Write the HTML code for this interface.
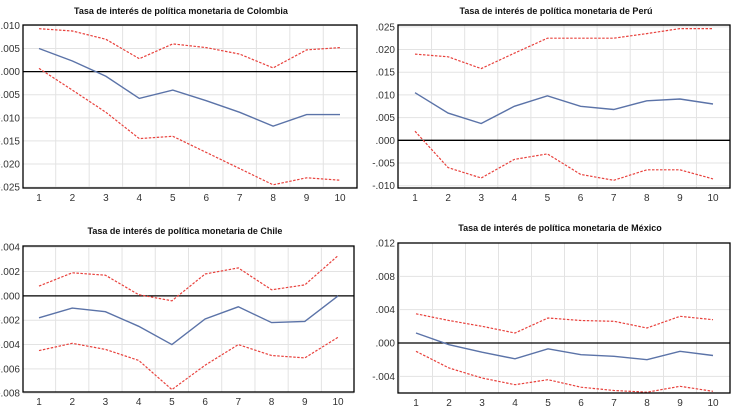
<!DOCTYPE html>
<html><head><meta charset="utf-8">
<style>
html,body{margin:0;padding:0;background:#fff;}
svg{display:block;font-family:"Liberation Sans",sans-serif;}
</style></head>
<body>
<svg id="c" width="737" height="409" viewBox="0 0 737 409"></svg>
<script>
const periods = [1,2,3,4,5,6,7,8,9,10];
const colCenter = [0.005,0.0023,-0.001,-0.0058,-0.004,-0.0063,-0.0088,-0.0118,-0.0093,-0.0093];
const colUpper = [0.0093,0.0088,0.007,0.0028,0.006,0.0052,0.0038,0.0008,0.0047,0.0052];
const colLower = [0.0007,-0.004,-0.0088,-0.0145,-0.014,-0.0175,-0.021,-0.0245,-0.023,-0.0235];
const colTicks = [0.01,0.005,0,-0.005,-0.01,-0.015,-0.02,-0.025];
const colTickLabels = [".010",".005",".000","-.005","-.010","-.015","-.020","-.025"];

const peruCenter = [0.0105,0.006,0.0037,0.0075,0.0098,0.0075,0.0068,0.0087,0.0091,0.008];
const peruUpper = [0.019,0.0184,0.0158,0.0192,0.0225,0.0225,0.0225,0.0235,0.0246,0.0246];
const peruLower = [0.002,-0.006,-0.0083,-0.0042,-0.003,-0.0075,-0.0088,-0.0065,-0.0065,-0.0085];
const peruTicks = [0.025,0.02,0.015,0.01,0.005,0,-0.005,-0.01];
const peruTickLabels = [".025",".020",".015",".010",".005",".000","-.005","-.010"];

const chiCenter = [-0.0018,-0.001,-0.0013,-0.0025,-0.004,-0.0019,-0.0009,-0.0022,-0.0021,0.0];
const chiUpper = [0.0008,0.0019,0.0017,0.0001,-0.0004,0.0018,0.0023,0.0005,0.0009,0.0033];
const chiLower = [-0.0045,-0.0039,-0.0044,-0.0053,-0.0077,-0.0057,-0.004,-0.0049,-0.0051,-0.0034];
const chiTicks = [0.004,0.002,0,-0.002,-0.004,-0.006,-0.008];
const chiTickLabels = [".004",".002",".000","-.002","-.004","-.006","-.008"];

const mexCenter = [0.0012,-0.0002,-0.0011,-0.0019,-0.0007,-0.0014,-0.0016,-0.002,-0.001,-0.0015];
const mexUpper = [0.0035,0.0027,0.002,0.0012,0.003,0.0027,0.0026,0.0018,0.0032,0.0028];
const mexLower = [-0.001,-0.003,-0.0042,-0.005,-0.0044,-0.0053,-0.0057,-0.0059,-0.0052,-0.0058];
const mexTicks = [0.012,0.008,0.004,0,-0.004];
const mexTickLabels = [".012",".008",".004",".000","-.004"];

const svg = document.getElementById('c');
const NS = 'http://www.w3.org/2000/svg';
function mk(tag, attrs, parent){
  const e = document.createElementNS(NS, tag);
  for (const k in attrs) e.setAttribute(k, attrs[k]);
  (parent||svg).appendChild(e);
  return e;
}

function panel(cfg){
  const g = mk('g', {});
  
  
  const {x0,x1,y0,y1,vmax,vmin,px1,px10} = cfg;
  const xs = i => px1 + (px10-px1)*(i-1)/9;
  const ys = v => y0 + (vmax - v)/(vmax - vmin)*(y1-y0);
  const step = (px10-px1)/9;
  // grid
  for (let i=0;i<=10;i++){
    const gx = px1 - step/2 + i*step;
    if (gx>x0+1 && gx<x1-1){
      const l = mk('line',{x1:gx,x2:gx,y1:y0,y2:y1,stroke:'#e3e3e3','stroke-width':1},g);
      
      
    }
  }
  cfg.ticks.forEach((t,k)=>{
    const y = ys(t);
    const l = mk('line',{x1:x0,x2:x1,y1:y,y2:y,stroke:'#e3e3e3','stroke-width':1},g);
    
    
    const tx = mk('text',{x:x0-3,y:y+3.5,'text-anchor':'end','font-size':10,fill:'#333'},g);
    tx.textContent = cfg.labels[k];
    
    
  });
  periods.forEach(p=>{
    const tx = mk('text',{x:xs(p),y:y1+13,'text-anchor':'middle','font-size':10,fill:'#333'},g);
    tx.textContent = p;
    
    
  });
  // zero line
  const z = mk('line',{x1:x0,x2:x1,y1:ys(0),y2:ys(0),stroke:'#000','stroke-width':1.3},g);
  
  
  const pts = arr => arr.map((v,i)=>xs(periods[i]).toFixed(1)+','+ys(v).toFixed(1)).join(' ');
  const up = mk('polyline',{points:pts(cfg.upper),fill:'none',stroke:'#e8413c','stroke-width':1.2,'stroke-dasharray':'2.5,1.5'},g);
  
  
  const lo = mk('polyline',{points:pts(cfg.lower),fill:'none',stroke:'#e8413c','stroke-width':1.2,'stroke-dasharray':'2.5,1.5'},g);
  
  
  const ce = mk('polyline',{points:pts(cfg.center),fill:'none',stroke:'#5b73a8','stroke-width':1.4},g);
  
  
  const box = mk('rect',{x:x0,y:y0,width:x1-x0,height:y1-y0,fill:'none',stroke:'#000','stroke-width':1.3},g);
  
  
  const tt = mk('text',{x:cfg.tx,y:cfg.ty,'text-anchor':'middle','font-size':9,'font-weight':'bold',fill:'#111'},g);
  tt.textContent = cfg.title;
  
  
}

panel({name:'colombia-panel',title:'Tasa de interés de política monetaria de Colombia',tx:181,ty:14,
  x0:23,x1:357,y0:25,y1:188,vmax:0.0101,vmin:-0.0252,px1:39,px10:340,
  ticks:colTicks,labels:colTickLabels,center:colCenter,upper:colUpper,lower:colLower});
panel({name:'peru-panel',title:'Tasa de interés de política  monetaria de Perú',tx:556,ty:14,
  x0:398,x1:730,y0:25,y1:188,vmax:0.0254,vmin:-0.0105,px1:415,px10:713,
  ticks:peruTicks,labels:peruTickLabels,center:peruCenter,upper:peruUpper,lower:peruLower});
panel({name:'chile-panel',title:'Tasa de interés de política monetaria de Chile',tx:185,ty:234,
  x0:23,x1:354,y0:246,y1:392,vmax:0.0041,vmin:-0.0079,px1:39,px10:338,
  ticks:chiTicks,labels:chiTickLabels,center:chiCenter,upper:chiUpper,lower:chiLower});
panel({name:'mexico-panel',title:'Tasa de interés de política monetaria de México',tx:560,ty:231,
  x0:398,x1:730,y0:243,y1:393,vmax:0.012,vmin:-0.006,px1:416,px10:713,
  ticks:mexTicks,labels:mexTickLabels,center:mexCenter,upper:mexUpper,lower:mexLower});
</script>
</body></html>
